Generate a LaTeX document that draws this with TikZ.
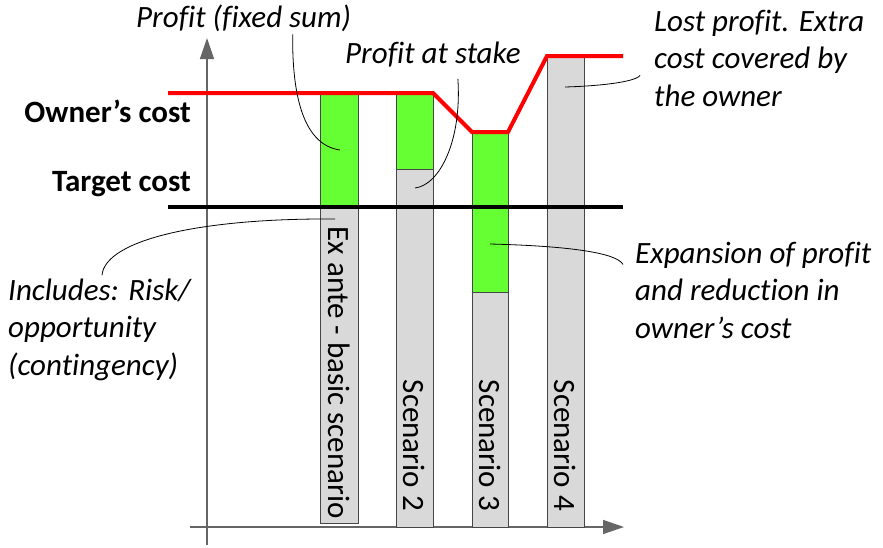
\documentclass[tikz,border=0pt]{standalone}
\usepackage{fontspec}
\setmainfont{Carlito}[Ligatures=NoCommon]
\usetikzlibrary{arrows.meta}
\definecolor{fGreen}{RGB}{102,255,51}
\definecolor{fGray}{RGB}{217,217,217}
\definecolor{dGray}{RGB}{70,70,70}

\begin{document}
\begin{tikzpicture}[x=1pt,y=1pt,
  gr/.style={draw=dGray,fill=fGray,line width=1pt},
  pf/.style={draw=dGray,fill=fGreen,line width=1pt},
  nt/.style={font=\itshape\fontsize{31}{37.5}\selectfont,align=left,inner sep=0pt},
  lb/.style={font=\bfseries\fontsize{31}{35}\selectfont,inner sep=0pt},
  sc/.style={font=\fontsize{31}{34}\selectfont,rotate=-90,inner sep=0pt,anchor=east},
  ld/.style={line width=0.8pt,black},
  ax/.style={-{Triangle[length=21pt,width=14pt]},black!60,line width=1.4pt}]
\useasboundingbox (0,0) rectangle (883,-547);
% axes
\draw[ax] (207,-545) -- (207,-38);
\draw[ax] (190,-527) -- (624,-527);
% bars
\filldraw[gr] (320,-207) rectangle (358,-523);
\filldraw[pf] (320,-93) rectangle (358,-207);
\filldraw[pf] (396,-93) rectangle (433,-169);
\filldraw[gr] (396,-169) rectangle (433,-527);
\filldraw[pf] (472,-132) rectangle (508,-292);
\filldraw[gr] (472,-292) rectangle (508,-527);
\filldraw[gr] (547,-56) rectangle (584,-527);
\node[sc] (s1) at (339,-519) {Ex ante - basic scenario};
\node[sc] (s2) at (414,-511) {Scenario 2};
\node[sc] (s3) at (490,-511) {Scenario 3};
\node[sc] (s4) at (565,-511) {Scenario 4};
% cost lines
\draw[line width=4pt] (168,-207) -- (623,-207);
\draw[red,line width=4pt] (168,-93) -- (433,-93) -- (472,-132) -- (508,-132) -- (547,-56) -- (623,-56);
\node[lb,anchor=base east] (own) at (191,-122) {Owner’s cost};
\node[lb,anchor=base east] (tgt) at (191,-191) {Target cost};
% notes
\node[nt,anchor=base west] (pfs) at (136,-27) {Profit (fixed sum)};
\node[nt,anchor=base west] (pas) at (345,-63) {Profit at stake};
\node[nt,anchor=base west] (lost) at (654,-106) {Lost profit. Extra\\cost covered by\\the owner};
\node[nt,anchor=base west] (expn) at (635,-338) {Expansion of profit\\and reduction in\\owner’s cost};
\node[nt,anchor=base west] (incl) at (8,-375) {Includes: Risk/\\opportunity\\(contingency)};
\coordinate (e1) at (340,-150);
\coordinate (e2) at (415,-188);
\coordinate (e3) at (565,-87);
\coordinate (e4) at (490,-244);
\coordinate (e5) at (335,-219);
\draw[ld] ([xshift=49pt,yshift=-3pt]pfs.south) .. controls (292,-100) and (305,-145) .. (e1);
\draw[ld] ([xshift=25pt,yshift=-12pt]pas.south) .. controls (462,-140) and (440,-185) .. (e2);
\draw[ld] ([shift={(-14pt,-66pt)}]lost.north west) .. controls (635,-82) and (600,-86) .. (e3);
\draw[ld] ([shift={(-12pt,-23pt)}]expn.north west) .. controls (617,-253) and (570,-246) .. (e4);
\draw[ld] ([shift={(94pt,3pt)}]incl.north west) .. controls (105,-240) and (200,-218) .. (e5);
\end{tikzpicture}
\end{document}
